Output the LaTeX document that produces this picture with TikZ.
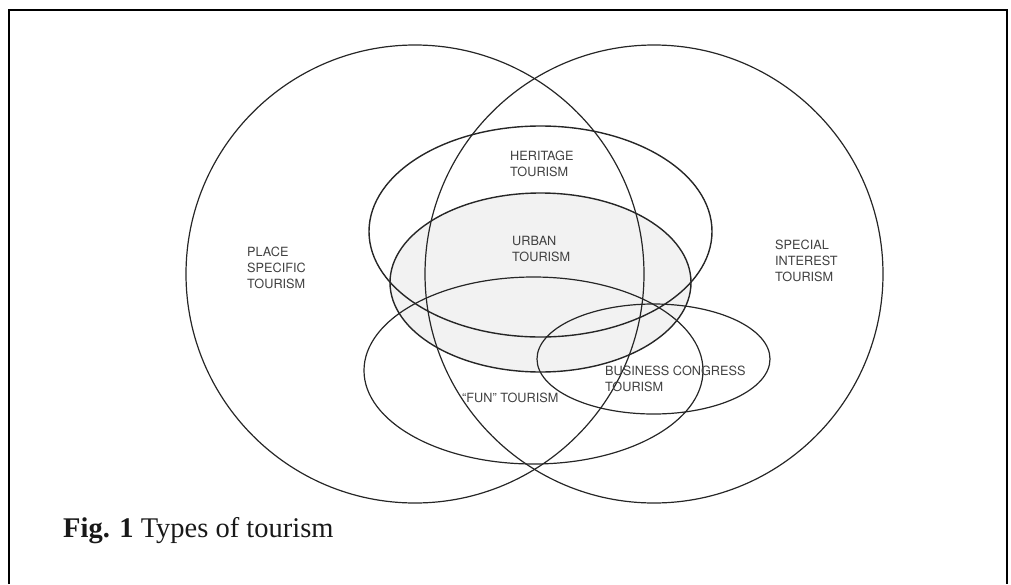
\documentclass[tikz,border=0pt]{standalone}
\usepackage{fontspec}
\setmainfont{Liberation Serif}
\setsansfont{TeX Gyre Heros}

\begin{document}
\begin{tikzpicture}[x=1pt, y=-1pt,
    ring/.style={draw=black!85, line width=1.2pt},
    oval/.style={draw=black!85, line width=1.4pt},
    lbl/.style={anchor=north west, inner sep=0pt, align=left, text=black!75,
        font=\sffamily\fontsize{12.7}{16}\selectfont}]
    \useasboundingbox (0,0) rectangle (1011,584);

    % Page frame (open at the bottom)
    \draw[line width=2pt] (9,584) -- (9,10) -- (1007,10) -- (1007,584);

    % Shaded urban area
    \fill[black!5] (540.5,282.5) ellipse [x radius=150.5, y radius=89.5];

    % Two big circles
    \draw[ring] (415,274) circle [radius=229];
    \draw[ring] (654,274) circle [radius=229];

    % Inner ellipses
    \draw[oval] (540.5,231.5) ellipse [x radius=171.5, y radius=105.5];
    \draw[oval] (540.5,282.5) ellipse [x radius=150.5, y radius=89.5];
    \draw[ring] (533.5,370.5) ellipse [x radius=169.5, y radius=93.5];
    \draw[ring] (653.5,359) ellipse [x radius=116.5, y radius=55];

    % Labels
    \node[lbl] (place) at (247,246.5) {PLACE\\SPECIFIC\\TOURISM};
    \node[lbl] (heritage) at (510,150.5) {HERITAGE\\TOURISM};
    \node[lbl] (urban) at (512,236) {URBAN\\TOURISM};
    \node[lbl] (special) at (775,240) {SPECIAL\\INTEREST\\TOURISM};
    \node[lbl] (business) at (605,366) {BUSINESS CONGRESS\\TOURISM};
    \node[lbl] (fun) at (462,393) {“FUN” TOURISM};

    % Caption
    \node[anchor=base west, inner sep=0pt, text=black!90, font=\fontsize{28.5}{32}\selectfont]
        (caption) at (63,537) {\textbf{Fig. 1} Types of tourism};
\end{tikzpicture}
\end{document}
